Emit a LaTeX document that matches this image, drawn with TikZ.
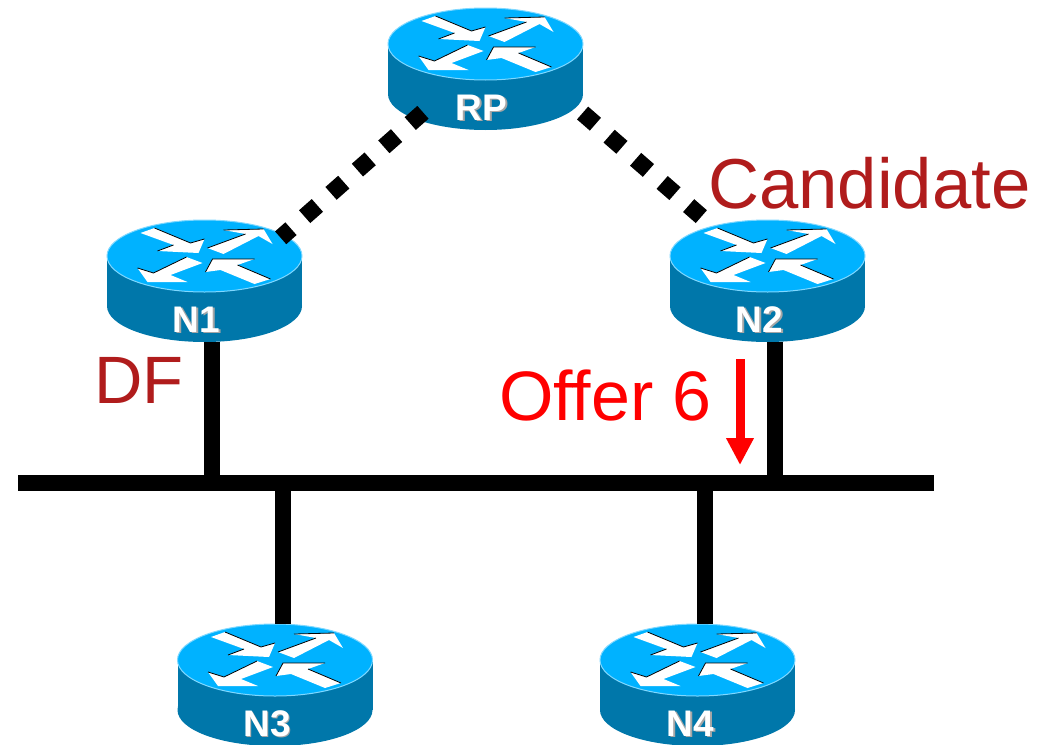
\documentclass[tikz,border=0pt]{standalone}
\usepackage{fontspec}
\setmainfont{Liberation Sans}
\usetikzlibrary{arrows.meta,shapes.geometric}
\definecolor{routertop}{HTML}{00B2FF}
\definecolor{routerside}{HTML}{0077AA}
\definecolor{routerrim}{HTML}{7FD8FF}
\definecolor{labelred}{HTML}{B01C1C}
\newcommand{\routertext}[1]{\rlap{\kern1.5pt\raisebox{-1.5pt}{\textcolor{gray!70}{#1}}}#1}
\tikzset{
  router/.style={ellipse, minimum width=195pt, minimum height=122pt, inner sep=0pt},
  router label/.style={anchor=base, inner sep=0pt, text=white, font=\bfseries\fontsize{37}{37}\selectfont},
  link/.style={line width=16pt},
  dotted link/.style={line width=17pt, dash pattern=on 17pt off 18.2pt},
  red label/.style={anchor=base west, inner sep=0pt, font=\fontsize{70}{70}\selectfont}
}
\begin{document}
\begin{tikzpicture}[x=1pt,y=-1pt]
\useasboundingbox (0,0) rectangle (1051,744);

\foreach \name/\x/\y/\dx in {RP/485.5/44/-4, N1/204.5/256/-8, N2/767.5/256/-8, N3/275/660/-8, N4/697.5/660/-7}{
  \begin{scope}[shift={(\x,\y)}]
    \fill [routerside] (-97.5,0) rectangle (97.5,50);
    \fill [routerside] (0,50) circle [x radius=97.5, y radius=36];
    \fill [routertop, draw=routerrim, line width=1pt] (0,0) circle [x radius=97.5, y radius=36];
    \fill [white] (-64,-23) -- (-50,-28) -- (-14,-13) -- (0,-17) -- (-6,-3) -- (-47,-5) -- (-31,-11) -- cycle;
    \fill [white] (3,-8) -- (41,-22) -- (19,-26) -- (59,-27) -- (68,-12) -- (54,-20) -- (19,-2) -- cycle;
    \fill [white] (-2,7) -- (-18,1) -- (-51,17) -- (-67,12) -- (-57,26) -- (-17,26) -- (-34,19) -- cycle;
    \fill [white] (66,23) -- (50,28) -- (16,14) -- (1,16) -- (8,3) -- (50,3) -- (33,9) -- cycle;
    \draw [line width=.8pt] (-50,-28) -- (-14,-13) -- (0,-17) (-47,-5) -- (-31,-11);
    \draw [line width=.8pt] (3,-8) -- (41,-22) (19,-26) -- (59,-27);
    \draw [line width=.8pt] (-18,1) -- (-51,17) -- (-67,12);
    \draw [line width=.8pt] (33,9) -- (66,23) (1,16) -- (8,3) -- (50,3);
    \node (\name) [router] at (0,25) {};
    \node (\name label) [router label] at (\dx,76) {\routertext{\name}};
  \end{scope}
}

\node (bus) [fill=black, inner sep=0pt, minimum width=916pt, minimum height=16pt] at (476,483) {};
\coordinate (tap1) at (212,483);
\coordinate (tap2) at (775,483);
\coordinate (tap3) at (283,483);
\coordinate (tap4) at (705,483);

\draw [link] (tap1) -- (tap1 |- N1.south);
\draw [link] (tap2) -- (tap2 |- N2.south);
\draw [link] (tap3) -- (tap3 |- N3.north);
\draw [link] (tap4) -- (tap4 |- N4.north);

\draw [dotted link, shorten <=-3.5pt, shorten >=4pt] (RP.215) -- (N1.29);
\draw [dotted link, shorten <=18.3pt, shorten >=19pt] (RP.339) -- (N2.135);

\node (candidate) [red label, text=labelred, font=\fontsize{70.7}{70}\selectfont] at (708,208) {Candidate};
\node (df) [red label, text=labelred, font=\fontsize{67}{67}\selectfont] at (94,403) {DF};
\node (offer) [red label, text=red] at (499,420) {Offer 6};

\coordinate (offer start) at (740,359);
\coordinate (offer end) at (740,465);
\draw [red, line width=9pt, -{Triangle[width=26pt,length=27pt]}] (offer start) -- (offer end);
\end{tikzpicture}
\end{document}
